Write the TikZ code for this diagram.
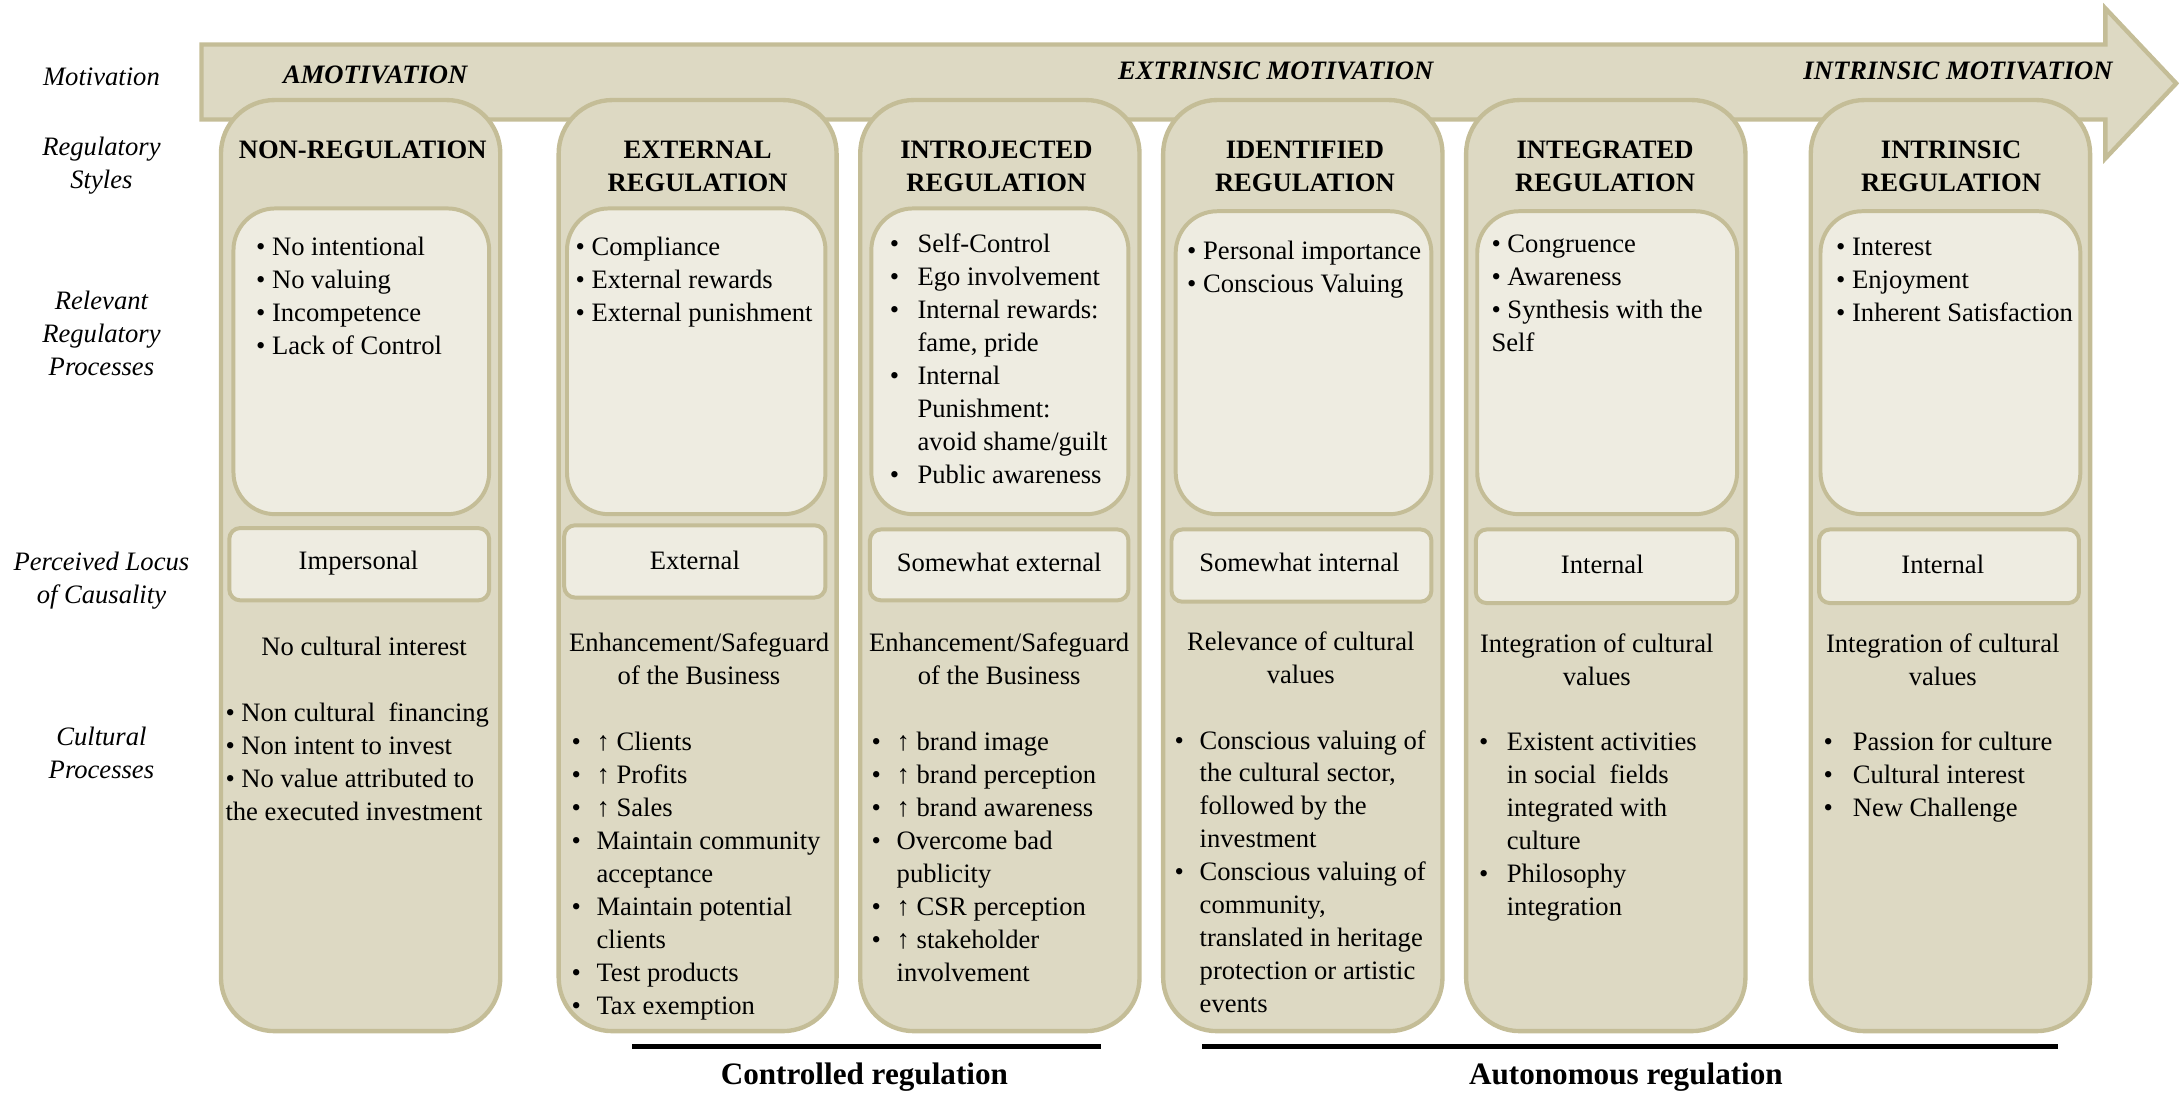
\documentclass[tikz,border=0pt]{standalone}
\usepackage{fontspec}
\setmainfont{LiberationSerif}[
  Extension=.ttf,
  UprightFont=*-Regular,
  BoldFont=*-Bold,
  ItalicFont=*-Italic,
  BoldItalicFont=*-BoldItalic]
\usetikzlibrary{fit}
\definecolor{tanfill}{HTML}{DDD9C3}
\definecolor{tanline}{HTML}{C4BD97}
\definecolor{paper}{HTML}{EEECE1}

% bulleted list with the bullet hanging in its own column
\newcommand{\hlist}[2]{\begin{tabular}[t]{@{}p{#1}@{}l@{}}#2\end{tabular}}
% plain left-aligned block of lines
\newcommand{\plist}[1]{\begin{tabular}[t]{@{}l@{}}#1\end{tabular}}
\newcommand{\bu}{\textbullet}

\tikzset{
  colbox/.style={draw=tanline, fill=tanfill, line width=2.2pt, rounded corners=27pt, inner sep=0pt},
  procbox/.style={draw=tanline, fill=paper, line width=2pt, rounded corners=21pt, inner sep=0pt},
  locbox/.style={draw=tanline, fill=paper, line width=2pt, rounded corners=5.5pt, inner sep=0pt},
  txt/.style={font=\fontsize{13.4}{16.6}\selectfont, inner sep=0pt, align=center},
  lst/.style={font=\fontsize{13.4}{16.6}\selectfont, inner sep=0pt, anchor=base west},
  rowlabel/.style={font=\fontsize{13.4}{16.6}\selectfont\itshape, inner sep=0pt, align=center},
  title/.style={font=\fontsize{13.4}{16.6}\selectfont\bfseries, inner sep=0pt, align=center},
  motiv/.style={font=\fontsize{13.4}{16.6}\selectfont\bfseries\itshape, inner sep=0pt},
  groupline/.style={line width=2.2pt, black},
  grouplabel/.style={font=\fontsize{15.7}{18}\selectfont\bfseries, inner sep=0pt},
}

\begin{document}
\begin{tikzpicture}[x=0.7pt,y=-0.7pt]
\useasboundingbox (0,0) rectangle (1568,789);

% motivation arrow
\draw[draw=tanline, fill=tanfill, line width=2.2pt, line join=miter]
  (145,32) -- (1515,32) -- (1515,6) -- (1566,60) -- (1515,114) -- (1515,86) -- (145,86) -- cycle;
\node[motiv] (amot) at (270,54) {AMOTIVATION};
\node[motiv] (extr) at (918,51) {EXTRINSIC MOTIVATION};
\node[motiv] (intr) at (1409,51) {INTRINSIC MOTIVATION};

% row labels
\node[rowlabel] (lmot) at (73,55) {Motivation};
\node[rowlabel] (lsty) at (73,119) {Regulatory\\Styles};
\node[rowlabel] (lpro) at (73,240) {Relevant\\Regulatory\\Processes};
\node[rowlabel] (lloc) at (73,418) {Perceived Locus\\of Causality};
\node[rowlabel] (lcul) at (73,542) {Cultural\\Processes};

% columns
\node[colbox, fit={(159,72) (360,742)}] (c1) {};
\node[colbox, fit={(402,72) (602,742)}] (c2) {};
\node[colbox, fit={(619,72) (820,742)}] (c3) {};
\node[colbox, fit={(837,72) (1038,742)}] (c4) {};
\node[colbox, fit={(1055,72) (1256,742)}] (c5) {};
\node[colbox, fit={(1303,72) (1504,742)}] (c6) {};

% regulatory styles
\node[title] (t1) at (261,108) {NON-REGULATION};
\node[title] (t2) at (502,120) {EXTERNAL\\REGULATION};
\node[title] (t3) at (717,120) {INTROJECTED\\REGULATION};
\node[title] (t4) at (939,120) {IDENTIFIED\\REGULATION};
\node[title] (t5) at (1155,120) {INTEGRATED\\REGULATION};
\node[title] (t6) at (1404,120) {INTRINSIC\\REGULATION};

% relevant regulatory processes
\node[procbox, fit={(168,150) (352,370)}] (p1) {};
\node[procbox, fit={(408,150) (594,370)}] (p2) {};
\node[procbox, fit={(627,150) (812,370)}] (p3) {};
\node[procbox, fit={(846,152) (1030,370)}] (p4) {};
\node[procbox, fit={(1063,152) (1250,370)}] (p5) {};
\node[procbox, fit={(1310,152) (1497,370)}] (p6) {};

\node[lst] (pl1) at (184,184) {\plist{\bu\ No intentional\\\bu\ No valuing\\\bu\ Incompetence\\\bu\ Lack of Control}};
\node[lst] (pl2) at (414,184) {\plist{\bu\ Compliance\\\bu\ External rewards\\\bu\ External punishment}};
\node[lst] (pl3) at (640,182) {\hlist{14pt}{\bu & Self-Control\\\bu & Ego involvement\\\bu & Internal rewards:\\ & fame, pride\\\bu & Internal\\ & Punishment:\\ & avoid shame/guilt\\\bu & Public awareness}};
\node[lst] (pl4) at (854,187) {\plist{\bu\ Personal importance\\\bu\ Conscious Valuing}};
\node[lst] (pl5) at (1073,182) {\plist{\bu\ Congruence\\\bu\ Awareness\\\bu\ Synthesis with the\\Self}};
\node[lst] (pl6) at (1321,184) {\plist{\bu\ Interest\\\bu\ Enjoyment\\\bu\ Inherent Satisfaction}};

% perceived locus of causality
\node[locbox, fit={(165,380) (352,432)}] (l1) {};
\node[locbox, fit={(406,378) (594,430)}] (l2) {};
\node[locbox, fit={(626,381) (812,432)}] (l3) {};
\node[locbox, fit={(843,381) (1030,433)}] (l4) {};
\node[locbox, fit={(1062,381) (1250,434)}] (l5) {};
\node[locbox, fit={(1309,381) (1496,434)}] (l6) {};
\node[txt] (lt1) at (258,405) {Impersonal};
\node[txt] (lt2) at (500,403) {External};
\node[txt] (lt3) at (719,405) {Somewhat external};
\node[txt] (lt4) at (935,405) {Somewhat internal};
\node[txt] (lt5) at (1153,406) {Internal};
\node[txt] (lt6) at (1398,406) {Internal};

% cultural processes
\node[txt] (h1) at (262,465) {No cultural interest};
\node[txt] (h2) at (503,474) {Enhancement/Safeguard\\of the Business};
\node[txt] (h3) at (719,474) {Enhancement/Safeguard\\of the Business};
\node[txt] (h4) at (936,473) {Relevance of cultural\\values};
\node[txt] (h5) at (1149,475) {Integration of cultural\\values};
\node[txt] (h6) at (1398,475) {Integration of cultural\\values};

\node[lst] (cl1) at (162,519) {\plist{\bu\ Non cultural\ \ financing\\\bu\ Non intent to invest\\\bu\ No value attributed to\\the executed investment}};
\node[lst] (cl2) at (411,540) {\hlist{12.6pt}{\bu & ↑ Clients\\\bu & ↑ Profits\\\bu & ↑ Sales\\\bu & Maintain community\\ & acceptance\\\bu & Maintain potential\\ & clients\\\bu & Test products\\\bu & Tax exemption}};
\node[lst] (cl3) at (627,540) {\hlist{12.6pt}{\bu & ↑ brand image\\\bu & ↑ brand perception\\\bu & ↑ brand awareness\\\bu & Overcome bad\\ & publicity\\\bu & ↑ CSR perception\\\bu & ↑ stakeholder\\ & involvement}};
\node[lst] (cl4) at (845,539) {\hlist{12.6pt}{\bu & Conscious valuing of\\ & the cultural sector,\\ & followed by the\\ & investment\\\bu & Conscious valuing of\\ & community,\\ & translated in heritage\\ & protection or artistic\\ & events}};
\node[lst] (cl5) at (1064,540) {\hlist{14pt}{\bu & Existent activities\\ & in social\ \ fields\\ & integrated with\\ & culture\\\bu & Philosophy\\ & integration}};
\node[lst] (cl6) at (1312,540) {\hlist{14.7pt}{\bu & Passion for culture\\\bu & Cultural interest\\\bu & New Challenge}};

% controlled / autonomous groups
\coordinate (ctrlA) at (455,753);
\coordinate (ctrlB) at (792,753);
\coordinate (autoA) at (865,753);
\coordinate (autoB) at (1481,753);
\draw[groupline] (ctrlA) -- (ctrlB);
\draw[groupline] (autoA) -- (autoB);
\node[grouplabel] (ctrl) at (622,775) {Controlled regulation};
\node[grouplabel] (auto) at (1170,775) {Autonomous regulation};
\end{tikzpicture}
\end{document}
